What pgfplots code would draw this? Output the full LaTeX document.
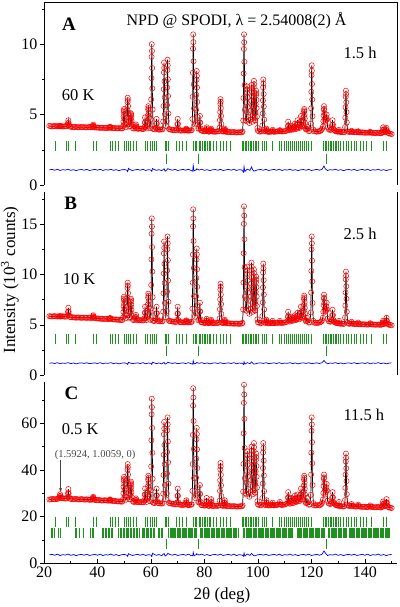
\documentclass[border=0pt]{standalone}
\usepackage{fontspec}
\setmainfont{Liberation Serif}
\usepackage{pgfplots}
\usepackage{pgfplotstable}
\pgfplotsset{compat=1.18}
\usetikzlibrary{arrows.meta}
\definecolor{tickgreen}{RGB}{30,145,30}
\definecolor{annot}{RGB}{70,70,70}

% observed / calculated profile: 2theta, panel A (60 K), B (10 K), C (0.5 K)
\pgfplotstableread{
tt A B C
22 4.20 5.86 27.3
22.5 4.18 5.84 27.4
23 4.16 5.83 27.5
23.5 4.18 5.85 27.5
24 4.19 5.86 27.4
24.5 4.18 5.84 27.5
25 4.17 5.82 27.6
25.4 4.18 5.84 27.8
25.74 4.18 5.84 28.1
25.88 4.17 5.85 28.8
26.00 4.18 5.84 29.6
26.12 4.19 5.84 28.8
26.26 4.18 5.83 28.1
26.6 4.17 5.84 28.0
27 4.15 5.85 27.9
27.5 4.17 5.83 27.8
28 4.18 5.81 27.7
28.4 4.17 5.82 27.8
28.84 4.23 5.95 28.4
28.98 4.40 6.30 30.0
29.10 4.60 6.70 31.8
29.22 4.40 6.30 30.0
29.36 4.23 5.95 28.4
29.7 4.15 5.78 27.7
30 4.14 5.76 27.6
30.5 4.12 5.75 27.5
31 4.11 5.74 27.4
31.5 4.12 5.72 27.5
32 4.13 5.71 27.6
32.5 4.11 5.72 27.4
33 4.10 5.73 27.3
33.5 4.11 5.71 27.4
34 4.12 5.70 27.5
34.5 4.11 5.71 27.4
35 4.11 5.72 27.3
35.5 4.10 5.70 27.3
36 4.09 5.69 27.4
36.5 4.10 5.70 27.3
37 4.12 5.71 27.2
37.5 4.11 5.69 27.2
38 4.10 5.68 27.3
38.14 4.13 5.74 27.5
38.28 4.20 5.84 28.0
38.40 4.28 5.95 28.5
38.52 4.20 5.84 28.0
38.66 4.13 5.74 27.5
39 4.09 5.66 27.1
39.5 4.08 5.64 27.1
40 4.08 5.63 27.2
40.5 4.07 5.62 27.1
41 4.06 5.61 27.0
41.5 4.06 5.60 26.9
42 4.07 5.59 26.9
42.5 4.06 5.59 27.0
43 4.05 5.60 27.0
43.5 4.05 5.58 26.9
44 4.06 5.57 26.8
44.44 4.07 5.60 26.9
44.58 4.10 5.64 27.1
44.70 4.14 5.68 27.4
44.82 4.10 5.64 27.1
44.96 4.07 5.60 26.9
45.5 4.04 5.56 26.7
46 4.05 5.54 26.8
46.5 4.04 5.53 26.7
47 4.03 5.53 26.6
47.5 4.03 5.51 26.5
48 4.04 5.50 26.5
48.5 4.03 5.49 26.5
49 4.02 5.48 26.4
49.3 4.02 5.48 26.5
49.58 4.17 5.74 27.5
49.69 4.49 6.28 30.0
49.77 4.84 6.86 32.7
49.84 5.19 7.45 35.4
49.90 5.40 7.80 37.0
49.96 5.29 7.61 36.1
50.03 5.01 7.14 34.0
50.11 4.67 6.58 31.4
50.22 4.32 6.00 28.7
50.60 4.10 5.65 27.2
50.98 4.31 5.94 28.3
51.09 4.80 6.80 32.0
51.17 5.34 7.72 36.1
51.24 5.88 8.65 40.1
51.30 6.20 9.20 42.5
51.36 6.03 8.90 41.2
51.43 5.60 8.16 38.0
51.51 5.08 7.28 34.1
51.62 4.54 6.35 30.1
51.90 4.15 5.70 27.4
52.18 4.18 5.75 27.4
52.29 4.42 6.24 29.4
52.37 4.68 6.76 31.6
52.44 4.94 7.29 33.7
52.50 5.10 7.60 35.0
52.56 5.02 7.43 34.3
52.63 4.81 7.01 32.6
52.71 4.55 6.51 30.5
52.82 4.29 5.98 28.4
53.3 4.02 5.48 26.4
53.7 4.01 5.47 26.3
54.14 4.05 5.54 26.4
54.28 4.17 5.76 27.1
54.40 4.30 6.00 27.8
54.52 4.17 5.76 27.1
54.66 4.05 5.54 26.4
55 3.99 5.45 26.2
55.5 4.00 5.46 26.2
56 4.01 5.47 26.3
56.5 3.99 5.45 26.2
57 3.98 5.44 26.1
57.25 3.99 5.45 26.2
57.54 4.12 5.66 27.1
57.68 4.44 6.20 29.4
57.80 4.80 6.80 32.0
57.92 4.44 6.20 29.4
58.06 4.12 5.66 27.1
58.40 4.02 5.48 26.3
58.68 4.19 5.78 27.6
58.79 4.56 6.38 30.2
58.87 4.96 7.04 33.0
58.94 5.36 7.70 35.8
59.00 5.60 8.10 37.5
59.06 5.47 7.89 36.6
59.13 5.15 7.36 34.3
59.21 4.77 6.73 31.6
59.32 4.37 6.07 28.8
59.65 4.05 5.50 26.6
59.98 4.69 6.62 31.3
60.09 6.08 8.97 41.5
60.17 7.59 11.52 52.7
60.24 9.10 14.07 63.8
60.30 10.00 15.60 70.5
60.36 9.52 14.78 66.9
60.43 8.31 12.74 58.0
60.51 6.86 10.30 47.3
60.62 5.36 7.75 36.2
60.8 3.99 5.41 26.0
61 3.98 5.40 25.9
61.4 3.96 5.38 25.8
61.84 4.05 5.58 26.6
61.98 4.36 6.15 29.1
62.10 4.70 6.80 32.0
62.22 4.36 6.15 29.1
62.36 4.05 5.58 26.6
62.7 3.95 5.37 25.8
63 3.93 5.36 25.7
63.5 3.94 5.35 25.7
64 3.95 5.34 25.6
64.3 3.95 5.35 25.7
64.58 4.51 6.31 29.8
64.69 5.61 8.14 37.8
64.77 6.80 10.12 46.5
64.84 7.99 12.11 55.3
64.90 8.70 13.30 60.5
64.96 8.32 12.66 57.7
65.03 7.37 11.08 50.7
65.11 6.22 9.17 42.4
65.22 5.03 7.19 33.6
65.55 4.20 5.75 27.5
65.88 4.54 6.37 30.0
65.99 5.68 8.31 38.5
66.07 6.92 10.42 47.7
66.14 8.16 12.53 57.0
66.20 8.90 13.80 62.5
66.26 8.50 13.12 59.5
66.33 7.51 11.44 52.2
66.41 6.32 9.41 43.3
66.52 5.08 7.30 34.1
66.75 3.98 5.40 25.9
67 3.96 5.38 25.7
67.5 3.93 5.35 25.6
68 3.91 5.33 25.5
68.5 3.90 5.31 25.4
69 3.89 5.29 25.3
69.4 3.89 5.28 25.3
69.74 3.99 5.49 26.1
69.88 4.33 6.11 28.9
70.00 4.70 6.80 32.0
70.12 4.33 6.11 28.9
70.26 3.99 5.49 26.1
70.6 3.88 5.28 25.2
71 3.86 5.27 25.1
71.5 3.87 5.25 25.0
72 3.88 5.24 25.0
72.5 3.87 5.26 25.1
72.94 3.89 5.29 25.3
73.08 3.94 5.36 26.1
73.20 4.00 5.45 27.0
73.32 3.94 5.36 26.1
73.46 3.89 5.29 25.3
73.8 3.87 5.26 25.0
74 3.86 5.25 24.9
74.5 3.87 5.26 25.0
75 3.88 5.27 25.1
75.25 3.90 5.30 25.3
75.48 4.69 6.61 31.0
75.59 6.26 9.19 42.5
75.67 7.97 12.00 55.0
75.74 9.68 14.81 67.5
75.80 10.70 16.50 75.0
75.86 10.15 15.60 71.0
75.93 8.79 13.35 61.0
76.01 7.15 10.66 49.0
76.12 5.44 7.85 36.5
76.45 4.30 5.80 28.0
76.78 4.38 6.14 29.0
76.89 5.35 7.83 36.6
76.97 6.41 9.66 44.8
77.04 7.47 11.50 53.1
77.10 8.10 12.60 58.0
77.16 7.76 12.01 55.4
77.23 6.92 10.54 48.8
77.31 5.90 8.78 40.8
77.42 4.84 6.95 32.6
77.70 4.00 5.45 26.2
78.04 4.02 5.55 26.3
78.18 4.44 6.33 29.7
78.30 4.90 7.20 33.5
78.42 4.44 6.33 29.7
78.56 4.02 5.55 26.3
78.8 3.88 5.26 25.0
79 3.86 5.24 24.9
79.5 3.83 5.21 24.8
80 3.81 5.19 24.7
80.25 3.81 5.19 24.8
80.54 3.85 5.24 25.1
80.68 3.97 5.41 26.5
80.80 4.10 5.60 28.0
80.92 3.97 5.41 26.5
81.06 3.85 5.24 25.1
81.3 3.81 5.19 24.7
81.6 3.79 5.17 24.6
81.9 3.80 5.18 24.6
82.24 3.83 5.23 25.0
82.38 3.91 5.36 26.2
82.50 4.00 5.50 27.5
82.62 3.91 5.36 26.2
82.76 3.83 5.23 25.0
83 3.80 5.18 24.5
83.5 3.79 5.17 24.6
84 3.78 5.16 24.7
84.5 3.80 5.17 24.6
85 3.81 5.19 24.6
85.35 3.82 5.21 24.8
85.68 4.08 5.65 26.8
85.79 4.61 6.55 31.0
85.87 5.18 7.53 35.6
85.94 5.76 8.51 40.2
86.00 6.10 9.10 43.0
86.06 5.92 8.79 41.5
86.13 5.46 8.00 37.9
86.21 4.90 7.06 33.4
86.32 4.33 6.08 28.8
86.55 3.83 5.22 24.9
86.8 3.80 5.18 24.6
87.1 3.80 5.19 24.7
87.34 3.83 5.23 25.0
87.48 3.91 5.36 25.9
87.60 4.00 5.50 27.0
87.72 3.91 5.36 25.9
87.86 3.83 5.23 25.0
88 3.78 5.17 24.5
88.5 3.77 5.16 24.5
89 3.77 5.15 24.6
89.5 3.76 5.14 24.5
90 3.75 5.13 24.4
90.5 3.75 5.12 24.4
91 3.76 5.11 24.5
91.5 3.74 5.12 24.4
92 3.73 5.12 24.3
92.5 3.74 5.11 24.3
93 3.75 5.10 24.4
93.5 3.74 5.11 24.4
94 3.74 5.13 24.4
94.25 3.80 5.20 24.8
94.48 4.58 6.52 30.7
94.59 6.18 9.21 42.6
94.67 7.92 12.13 55.7
94.74 9.66 15.05 68.7
94.80 10.70 16.80 76.5
94.86 10.14 15.87 72.3
94.93 8.75 13.53 61.9
95.01 7.09 10.73 49.4
95.12 5.35 7.81 36.4
95.40 4.60 6.50 30.0
95.68 4.54 6.40 29.5
95.79 5.18 7.55 34.4
95.87 5.88 8.80 39.6
95.94 6.58 10.05 44.9
96.00 7.00 10.80 48.0
96.06 6.78 10.40 46.3
96.13 6.22 9.40 42.1
96.21 5.54 8.20 37.1
96.32 4.84 6.95 31.8
96.80 4.40 6.10 28.5
97.28 4.64 6.62 30.6
97.39 5.28 7.82 35.7
97.47 5.98 9.12 41.2
97.54 6.68 10.42 46.7
97.60 7.10 11.20 50.0
97.66 6.88 10.78 48.2
97.73 6.32 9.74 43.8
97.81 5.64 8.50 38.6
97.92 4.94 7.20 33.1
98.05 4.50 6.30 29.5
98.18 4.76 6.63 31.3
98.29 5.45 7.64 36.6
98.37 6.20 8.74 42.3
98.44 6.95 9.84 48.1
98.50 7.40 10.50 51.5
98.56 7.16 10.15 49.7
98.63 6.56 9.27 45.1
98.71 5.84 8.21 39.5
98.82 5.09 7.11 33.8
98.90 4.60 6.40 30.2
98.98 4.59 6.46 30.3
99.09 5.14 7.33 34.7
99.17 5.74 8.28 39.4
99.24 6.34 9.23 44.2
99.30 6.70 9.80 47.0
99.36 6.51 9.50 45.5
99.43 6.03 8.74 41.7
99.51 5.45 7.82 37.1
99.62 4.85 6.87 32.4
99.8 4.05 5.55 26.6
100 3.85 5.25 25.2
100.5 3.80 5.20 25.0
101 3.79 5.16 24.8
101.35 3.82 5.20 25.1
101.68 4.23 5.87 28.0
101.79 5.08 7.24 34.1
101.87 6.01 8.72 40.8
101.94 6.94 10.21 47.5
102.00 7.50 11.10 51.5
102.06 7.20 10.62 49.4
102.13 6.46 9.44 44.0
102.21 5.57 8.01 37.6
102.32 4.64 6.53 30.9
102.60 3.82 5.20 25.0
102.94 3.81 5.21 25.1
103.08 3.90 5.35 26.0
103.20 4.00 5.50 27.0
103.32 3.90 5.35 26.0
103.46 3.81 5.21 25.1
103.7 3.79 5.18 24.9
104 3.77 5.15 24.8
104.5 3.78 5.16 24.8
105 3.79 5.17 24.9
105.36 3.82 5.20 25.1
105.50 3.92 5.40 26.0
105.64 3.82 5.20 25.1
105.8 3.80 5.18 24.9
106 3.78 5.16 24.8
106.5 3.79 5.17 24.9
107 3.80 5.18 25.0
107.5 3.81 5.20 25.1
108.06 3.83 5.22 25.3
108.20 3.90 5.40 26.3
108.34 3.83 5.22 25.3
108.6 3.81 5.20 25.1
109 3.80 5.19 25.0
109.5 3.81 5.21 25.1
110 3.82 5.23 25.2
110.5 3.84 5.26 25.4
111.04 3.92 5.40 25.9
111.18 4.19 5.82 28.1
111.30 4.50 6.30 30.5
111.42 4.19 5.82 28.1
111.56 3.92 5.40 25.9
111.90 3.88 5.32 25.5
112.24 3.95 5.42 25.9
112.38 4.07 5.60 26.9
112.50 4.20 5.80 28.0
112.62 4.07 5.60 26.9
112.76 3.95 5.42 25.9
113.15 3.93 5.40 25.8
113.54 4.01 5.53 26.5
113.68 4.17 5.73 27.7
113.80 4.35 5.95 29.0
113.92 4.17 5.73 27.7
114.06 4.01 5.53 26.5
114.30 3.98 5.48 26.2
114.54 4.09 5.60 26.8
114.68 4.33 5.89 28.1
114.80 4.60 6.20 29.5
114.92 4.33 5.89 28.1
115.06 4.09 5.60 26.8
115.45 4.05 5.55 26.6
115.84 4.18 5.74 27.4
115.98 4.52 6.24 29.6
116.10 4.90 6.80 32.0
116.22 4.52 6.24 29.6
116.36 4.18 5.74 27.4
116.70 4.15 5.70 27.3
116.98 4.26 5.88 28.3
117.09 4.56 6.41 30.7
117.17 4.88 6.98 33.3
117.24 5.21 7.56 35.9
117.30 5.40 7.90 37.5
117.36 5.30 7.72 36.7
117.43 5.04 7.26 34.6
117.51 4.72 6.70 32.0
117.62 4.40 6.13 29.4
117.90 3.95 5.35 25.8
118.14 3.98 5.40 26.0
118.30 4.15 5.70 28.0
118.46 3.98 5.40 26.0
119 3.83 5.23 25.1
119.4 3.84 5.24 25.2
119.78 4.36 6.23 29.3
119.89 5.45 8.21 38.0
119.97 6.62 10.36 47.4
120.04 7.80 12.51 56.8
120.10 8.50 13.80 62.5
120.16 8.12 13.11 59.5
120.23 7.18 11.39 51.9
120.31 6.06 9.33 42.9
120.42 4.88 7.18 33.5
120.7 3.95 5.40 25.8
121 3.81 5.21 24.8
121.5 3.80 5.20 24.8
122 3.79 5.19 24.9
122.5 3.80 5.20 24.9
123 3.82 5.22 24.8
123.35 3.85 5.27 25.1
123.70 3.90 5.32 25.4
124.0 4.00 5.45 26.0
124.30 4.15 5.71 27.3
124.45 4.53 6.31 30.1
124.55 4.94 6.96 33.1
124.63 5.35 7.61 36.2
124.70 5.60 8.00 38.0
124.78 5.40 7.70 36.8
124.88 5.10 7.20 34.4
125.00 4.70 6.60 31.6
125.20 4.50 6.30 29.5
125.45 4.60 6.40 30.5
125.58 4.80 6.80 32.3
125.70 5.00 7.20 34.0
125.85 4.65 6.50 31.2
126.05 4.10 5.60 26.8
126.50 3.95 5.35 25.6
127 3.90 5.30 25.4
127.3 3.93 5.35 25.6
127.60 4.00 5.48 26.1
127.75 4.29 5.96 28.2
127.90 4.60 6.50 30.5
128.05 4.29 5.96 28.2
128.22 4.00 5.48 26.1
128.45 3.93 5.34 25.8
128.70 3.88 5.28 25.5
129 3.82 5.20 25.0
129.5 3.80 5.17 24.8
129.85 3.79 5.16 24.7
130.15 3.80 5.15 24.7
130.30 3.92 5.40 26.3
130.45 3.80 5.15 24.7
130.7 3.78 5.13 24.6
131 3.77 5.11 24.5
131.5 3.76 5.10 24.4
132 3.75 5.09 24.3
132.3 3.76 5.12 24.5
132.58 4.11 5.72 27.1
132.69 4.79 6.92 32.3
132.77 5.52 8.22 38.0
132.84 6.26 9.52 43.6
132.90 6.70 10.30 47.0
132.96 6.46 9.88 45.2
133.03 5.88 8.84 40.7
133.11 5.17 7.60 35.2
133.22 4.44 6.30 29.6
133.6 3.80 5.20 24.9
134 3.77 5.10 24.5
134.45 3.77 5.11 24.6
134.86 3.79 5.14 24.7
135.00 3.85 5.30 25.4
135.14 3.79 5.14 24.7
135.5 3.77 5.10 24.5
136 3.75 5.08 24.4
136.5 3.75 5.07 24.3
137 3.74 5.07 24.3
137.36 3.76 5.10 24.5
137.50 3.82 5.22 25.1
137.64 3.76 5.10 24.5
138 3.73 5.06 24.3
138.5 3.73 5.05 24.2
139 3.74 5.05 24.2
139.5 3.72 5.05 24.2
140 3.71 5.04 24.2
140.5 3.72 5.03 24.1
141 3.72 5.02 24.1
141.4 3.72 5.03 24.2
141.86 3.73 5.06 24.3
142.00 3.78 5.16 24.8
142.14 3.73 5.06 24.3
142.5 3.71 5.04 24.2
143 3.70 5.03 24.1
143.5 3.70 5.02 24.0
144 3.69 5.01 24.0
144.5 3.70 5.02 24.1
145 3.71 5.02 24.1
145.5 3.69 5.01 24.0
146 3.68 5.00 23.9
146.25 3.70 5.03 24.1
146.54 3.76 5.09 24.4
146.68 3.92 5.23 25.4
146.80 4.10 5.40 26.5
146.92 3.92 5.23 25.4
147.06 3.76 5.09 24.4
147.45 3.75 5.10 24.6
147.84 3.78 5.15 24.7
147.98 3.90 5.41 26.0
148.10 4.05 5.70 27.5
148.22 3.90 5.41 26.0
148.36 3.78 5.15 24.7
148.7 3.70 5.05 24.2
149 3.66 5.00 23.9
149.5 3.64 4.98 23.8
150 3.62 4.95 23.7
}\tblprof

% difference curves (shifted)
\pgfplotstableread{
tt A B C
22 1.07 1.17 3.60
23 1.11 1.21 3.84
24 1.05 1.14 3.44
25 1.12 1.23 3.92
26 1.03 1.12 3.32
27 1.09 1.19 3.72
28 1.06 1.16 3.52
29 1.12 1.23 3.96
30 1.04 1.13 3.40
31 1.09 1.20 3.76
32 1.02 1.11 3.28
33 1.08 1.18 3.68
34 1.10 1.21 3.80
35 1.05 1.15 3.48
36 1.11 1.22 3.88
37 1.03 1.13 3.36
38 1.07 1.17 3.60
39 1.11 1.21 3.84
40 1.05 1.14 3.44
41 1.12 1.23 3.92
42 1.03 1.12 3.32
43 1.09 1.19 3.72
44 1.06 1.16 3.52
45 1.12 1.23 3.96
46 1.04 1.13 3.40
47 1.09 1.20 3.76
48 1.02 1.11 3.28
49 1.08 1.18 3.68
50 1.10 1.21 3.80
51 1.05 1.15 3.48
51.3 0.95 1.05 3.00
51.6 1.18 1.27 4.10
52 1.11 1.22 3.88
53 1.03 1.13 3.36
54 1.07 1.17 3.60
55 1.11 1.21 3.84
56 1.05 1.14 3.44
57 1.12 1.23 3.92
58 1.03 1.12 3.32
59 1.09 1.19 3.72
60 1.06 1.16 3.52
60.3 0.97 1.05 2.90
60.6 1.17 1.28 4.30
61 1.12 1.23 3.96
62 1.04 1.13 3.40
63 1.09 1.20 3.76
64 1.02 1.11 3.28
64.9 1.15 1.25 4.20
65.3 0.98 1.08 3.10
66 1.08 1.18 3.68
66.3 1.16 1.26 4.30
67 1.10 1.21 3.80
68 1.05 1.15 3.48
69 1.11 1.22 3.88
70 1.03 1.13 3.36
71 1.07 1.17 3.60
72 1.11 1.21 3.84
73 1.05 1.14 3.44
74 1.12 1.23 3.92
75 1.03 1.12 3.32
75.6 0.98 1.08 3.20
75.8 1.38 1.42 4.70
76.1 1.00 1.10 3.30
77 1.09 1.19 3.72
77.1 1.15 1.25 4.10
78 1.06 1.16 3.52
79 1.12 1.23 3.96
80 1.04 1.13 3.40
81 1.09 1.20 3.76
82 1.02 1.11 3.28
83 1.08 1.18 3.68
84 1.10 1.21 3.80
85 1.05 1.15 3.48
86 1.11 1.22 3.88
87 1.03 1.13 3.36
88 1.07 1.17 3.60
89 1.11 1.21 3.84
90 1.05 1.14 3.44
91 1.12 1.23 3.92
92 1.03 1.12 3.32
93 1.09 1.19 3.72
94 1.06 1.16 3.52
94.6 0.92 1.06 3.00
94.8 1.30 1.32 4.40
95.1 0.95 1.08 3.10
96 1.12 1.23 3.96
97 1.04 1.13 3.40
97.6 1.28 1.30 4.20
98 1.09 1.20 3.76
98.5 0.98 1.08 3.20
99 1.02 1.11 3.28
100 1.08 1.18 3.68
101 1.10 1.21 3.80
102 1.05 1.15 3.48
103 1.11 1.22 3.88
104 1.03 1.13 3.36
105 1.07 1.17 3.60
106 1.11 1.21 3.84
107 1.05 1.14 3.44
108 1.12 1.23 3.92
109 1.03 1.12 3.32
110 1.09 1.19 3.72
111 1.06 1.16 3.52
112 1.12 1.23 3.96
113 1.04 1.13 3.40
114 1.09 1.20 3.76
115 1.02 1.11 3.28
116 1.08 1.18 3.68
117 1.10 1.21 3.80
118 1.05 1.15 3.48
119 1.11 1.22 3.88
120 1.03 1.13 3.36
121 1.07 1.17 3.60
122 1.11 1.21 3.84
123 1.05 1.14 3.44
124 1.12 1.23 3.92
124.7 1.35 1.45 5.30
125.2 1.15 1.28 4.40
126 1.03 1.12 3.32
127 1.09 1.19 3.72
128 1.06 1.16 3.52
129 1.12 1.23 3.96
130 1.04 1.13 3.40
131 1.09 1.20 3.76
132 1.02 1.11 3.28
133 1.08 1.18 3.68
134 1.10 1.21 3.80
135 1.05 1.15 3.48
136 1.11 1.22 3.88
137 1.03 1.13 3.36
138 1.07 1.17 3.60
139 1.11 1.21 3.84
140 1.05 1.14 3.44
141 1.12 1.23 3.92
142 1.03 1.12 3.32
143 1.09 1.19 3.72
144 1.06 1.16 3.52
145 1.12 1.23 3.96
146 1.04 1.13 3.40
147 1.09 1.20 3.76
148 1.02 1.11 3.28
149 1.08 1.18 3.68
150 1.10 1.21 3.80
}\tbldiff

% Bragg positions, main phase (row heights for panels A, B, C)
\pgfplotstableread[row sep=\\]{
tt yA yB yC\\
24.36 2.75 3.62 17.85\\ 28.22 2.75 3.62 17.85\\ 28.97 2.75 3.62 17.85\\ 31.59 2.75 3.62 17.85\\
38.44 2.75 3.62 17.85\\ 39.69 2.75 3.62 17.85\\ 44.67 2.75 3.62 17.85\\ 45.67 2.75 3.62 17.85\\
46.54 2.75 3.62 17.85\\ 47.79 2.75 3.62 17.85\\ 49.91 2.75 3.62 17.85\\ 50.65 2.75 3.62 17.85\\
51.40 2.75 3.62 17.85\\ 52.40 2.75 3.62 17.85\\ 53.40 2.75 3.62 17.85\\ 54.39 2.75 3.62 17.85\\
58.01 2.75 3.62 17.85\\ 58.75 2.75 3.62 17.85\\ 59.63 2.75 3.62 17.85\\ 60.50 2.75 3.62 17.85\\
61.25 2.75 3.62 17.85\\ 62.12 2.75 3.62 17.85\\ 65.23 2.75 3.62 17.85\\ 65.86 2.75 3.62 17.85\\
66.36 2.75 3.62 17.85\\ 69.60 2.75 3.62 17.85\\ 70.59 2.75 3.62 17.85\\ 71.84 2.75 3.62 17.85\\
73.33 2.75 3.62 17.85\\ 75.83 2.75 3.62 17.85\\ 76.45 2.75 3.62 17.85\\ 77.07 2.75 3.62 17.85\\
77.94 2.75 3.62 17.85\\ 78.57 2.75 3.62 17.85\\ 79.19 2.75 3.62 17.85\\ 79.81 2.75 3.62 17.85\\
80.44 2.75 3.62 17.85\\ 81.06 2.75 3.62 17.85\\ 81.68 2.75 3.62 17.85\\ 82.31 2.75 3.62 17.85\\
83.30 2.75 3.62 17.85\\ 84.55 2.75 3.62 17.85\\ 85.79 2.75 3.62 17.85\\ 87.04 2.75 3.62 17.85\\
88.29 2.75 3.62 17.85\\ 89.53 2.75 3.62 17.85\\ 94.14 2.75 3.62 17.85\\ 94.52 2.75 3.62 17.85\\
95.14 2.75 3.62 17.85\\ 95.76 2.75 3.62 17.85\\ 96.39 2.75 3.62 17.85\\ 97.01 2.75 3.62 17.85\\
97.63 2.75 3.62 17.85\\ 98.26 2.75 3.62 17.85\\ 98.88 2.75 3.62 17.85\\ 99.50 2.75 3.62 17.85\\
100.12 2.75 3.62 17.85\\ 101.74 2.75 3.62 17.85\\ 102.37 2.75 3.62 17.85\\ 103.24 2.75 3.62 17.85\\
105.48 2.75 3.62 17.85\\ 107.98 2.75 3.62 17.85\\ 108.85 2.75 3.62 17.85\\ 109.72 2.75 3.62 17.85\\
110.47 2.75 3.62 17.85\\ 111.21 2.75 3.62 17.85\\ 111.96 2.75 3.62 17.85\\ 112.71 2.75 3.62 17.85\\
113.46 2.75 3.62 17.85\\ 114.21 2.75 3.62 17.85\\ 114.95 2.75 3.62 17.85\\ 115.70 2.75 3.62 17.85\\
116.45 2.75 3.62 17.85\\ 117.20 2.75 3.62 17.85\\ 117.94 2.75 3.62 17.85\\ 118.69 2.75 3.62 17.85\\
120.06 2.75 3.62 17.85\\ 124.42 2.75 3.62 17.85\\ 125.05 2.75 3.62 17.85\\ 125.67 2.75 3.62 17.85\\
126.29 2.75 3.62 17.85\\ 126.92 2.75 3.62 17.85\\ 127.54 2.75 3.62 17.85\\ 128.16 2.75 3.62 17.85\\
128.79 2.75 3.62 17.85\\ 129.41 2.75 3.62 17.85\\ 130.03 2.75 3.62 17.85\\ 130.90 2.75 3.62 17.85\\
131.90 2.75 3.62 17.85\\ 132.90 2.75 3.62 17.85\\ 133.77 2.75 3.62 17.85\\ 135.02 2.75 3.62 17.85\\
135.89 2.75 3.62 17.85\\ 136.89 2.75 3.62 17.85\\ 138.13 2.75 3.62 17.85\\ 139.38 2.75 3.62 17.85\\
140.62 2.75 3.62 17.85\\ 142.49 2.75 3.62 17.85\\ 146.85 2.75 3.62 17.85\\ 148.10 2.75 3.62 17.85\\
}\tblnuc

% Bragg positions, second phase
\pgfplotstableread[row sep=\\]{
tt yA yB yC\\
65.9 1.87 2.41 8.2\\ 77.7 1.87 2.41 8.2\\ 125.4 1.87 2.41 8.2\\
}\tblsecond

% magnetic reflections (panel C only)
\pgfplotstableread[row sep=\\]{
tt y\\
22.7 12.85\\ 23.3 12.85\\ 24.0 12.85\\ 25.5 12.85\\ 26.0 12.85\\ 31.7 12.85\\ 32.2 12.85\\ 33.2 12.85\\ 34.7 12.85\\
37.3 12.85\\ 37.9 12.85\\ 38.4 12.85\\ 41.7 12.85\\ 42.2 12.85\\ 42.8 12.85\\ 43.3 12.85\\ 43.9 12.85\\ 44.5 12.85\\
45.0 12.85\\ 45.6 12.85\\ 47.9 12.85\\ 48.5 12.85\\ 49.0 12.85\\ 49.7 12.85\\ 50.2 12.85\\ 50.7 12.85\\ 51.2 12.85\\
51.7 12.85\\ 52.3 12.85\\ 52.8 12.85\\ 53.3 12.85\\ 53.9 12.85\\ 54.4 12.85\\ 55.0 12.85\\ 55.5 12.85\\ 56.6 12.85\\
57.1 12.85\\ 57.6 12.85\\ 58.2 12.85\\ 58.7 12.85\\ 59.2 12.85\\ 59.8 12.85\\ 60.3 12.85\\ 60.9 12.85\\ 61.4 12.85\\
62.8 12.85\\ 63.3 12.85\\ 63.8 12.85\\ 64.4 12.85\\ 66.6 12.85\\ 67.1 12.85\\ 67.5 12.85\\ 68.0 12.85\\ 68.4 12.85\\
68.9 12.85\\ 69.3 12.85\\ 69.8 12.85\\ 70.2 12.85\\ 70.7 12.85\\ 71.1 12.85\\ 71.6 12.85\\ 72.0 12.85\\ 72.5 12.85\\
72.9 12.85\\ 73.4 12.85\\ 73.8 12.85\\ 74.3 12.85\\ 74.7 12.85\\ 75.2 12.85\\ 75.6 12.85\\ 76.1 12.85\\ 76.5 12.85\\
77.0 12.85\\ 78.4 12.85\\ 78.9 12.85\\ 79.3 12.85\\ 79.8 12.85\\ 80.2 12.85\\ 80.7 12.85\\ 81.1 12.85\\ 81.6 12.85\\
82.0 12.85\\ 82.5 12.85\\ 82.9 12.85\\ 83.4 12.85\\ 83.8 12.85\\ 84.3 12.85\\ 84.7 12.85\\ 85.2 12.85\\ 85.7 12.85\\
86.2 12.85\\ 86.6 12.85\\ 87.1 12.85\\ 87.5 12.85\\ 88.0 12.85\\ 88.4 12.85\\ 88.9 12.85\\ 89.3 12.85\\ 89.8 12.85\\
90.2 12.85\\ 90.7 12.85\\ 91.1 12.85\\ 91.6 12.85\\ 92.0 12.85\\ 92.5 12.85\\ 94.6 12.85\\ 95.0 12.85\\ 95.5 12.85\\
95.9 12.85\\ 96.4 12.85\\ 96.8 12.85\\ 97.3 12.85\\ 97.7 12.85\\ 98.2 12.85\\ 98.6 12.85\\ 99.1 12.85\\ 99.5 12.85\\
100.0 12.85\\ 100.4 12.85\\ 100.9 12.85\\ 101.3 12.85\\ 101.8 12.85\\ 102.2 12.85\\ 102.7 12.85\\ 103.1 12.85\\
103.6 12.85\\ 104.0 12.85\\ 104.5 12.85\\ 104.9 12.85\\ 105.4 12.85\\ 105.8 12.85\\ 106.3 12.85\\ 106.7 12.85\\
107.2 12.85\\ 107.6 12.85\\ 108.1 12.85\\ 108.5 12.85\\ 109.0 12.85\\ 109.4 12.85\\ 109.9 12.85\\ 110.3 12.85\\
110.8 12.85\\ 111.2 12.85\\ 111.7 12.85\\ 112.1 12.85\\ 112.6 12.85\\ 113.0 12.85\\ 114.6 12.85\\ 115.0 12.85\\
115.5 12.85\\ 115.9 12.85\\ 116.4 12.85\\ 116.8 12.85\\ 117.3 12.85\\ 117.7 12.85\\ 118.2 12.85\\ 118.6 12.85\\
119.1 12.85\\ 119.5 12.85\\ 120.0 12.85\\ 120.4 12.85\\ 120.9 12.85\\ 121.3 12.85\\ 121.8 12.85\\ 122.2 12.85\\
122.7 12.85\\ 123.1 12.85\\ 123.6 12.85\\ 124.0 12.85\\ 124.5 12.85\\ 124.9 12.85\\ 126.4 12.85\\ 126.8 12.85\\
127.3 12.85\\ 127.7 12.85\\ 128.2 12.85\\ 128.6 12.85\\ 129.1 12.85\\ 129.5 12.85\\ 130.0 12.85\\ 130.4 12.85\\
130.9 12.85\\ 131.3 12.85\\ 131.8 12.85\\ 132.2 12.85\\ 132.7 12.85\\ 133.1 12.85\\ 134.0 12.85\\ 134.4 12.85\\
134.9 12.85\\ 135.3 12.85\\ 135.8 12.85\\ 136.2 12.85\\ 136.7 12.85\\ 137.1 12.85\\ 137.6 12.85\\ 138.0 12.85\\
138.5 12.85\\ 138.9 12.85\\ 139.4 12.85\\ 139.8 12.85\\ 140.3 12.85\\ 140.7 12.85\\ 141.2 12.85\\ 141.6 12.85\\
142.1 12.85\\ 142.5 12.85\\ 143.0 12.85\\ 143.4 12.85\\ 143.9 12.85\\ 144.3 12.85\\ 144.8 12.85\\ 145.2 12.85\\
145.7 12.85\\ 146.1 12.85\\ 146.6 12.85\\ 147.0 12.85\\ 147.5 12.85\\ 147.9 12.85\\ 148.4 12.85\\ 148.8 12.85\\
149.2 12.85\\
}\tblmagn

\pgfplotsset{
  panel/.style={
    scale only axis, width=353pt, xmin=20, xmax=152,
    anchor=south west, clip=false,
    axis y line*=left,
    ytick align=outside, xtick align=inside,
    major tick length=4pt, minor tick length=2.5pt,
    every tick/.style={black, line width=0.5pt},
    axis line style={line width=0.6pt},
    ticklabel style={font=\fontsize{16}{18}\selectfont},
    xticklabel={\pgfmathprintnumber[assume math mode=true]{\tick}},
    yticklabel={\pgfmathprintnumber[assume math mode=true]{\tick}},
    yticklabel style={xshift=1pt},
  },
  obs/.style={only marks, mark=o, mark size=2.6pt, mark options={draw=red, line width=0.5pt}},
  calc/.style={black, line width=0.7pt, no marks},
  dif/.style={blue, line width=0.7pt, no marks},
  brg/.style={only marks, mark=|, mark size=5pt, mark options={draw=tickgreen, line width=0.7pt}},
}
\tikzset{lbl/.style={font=\fontsize{16.5}{19}\selectfont, inner sep=0pt}}

\begin{document}
\begin{tikzpicture}
\path[use as bounding box] (0,0) rectangle (399pt,607pt);

% ---------- Panel A ----------
\begin{axis}[panel, at={(44pt,422pt)}, height=183pt, ymin=0, ymax=13,
  axis x line*=top, xtick=\empty,
  ytick={0,5,10}, minor ytick={2.5,7.5,12.5}]
\addplot[brg] table[x=tt, y=yA] {\tblnuc};
\addplot[brg] table[x=tt, y=yA] {\tblsecond};
\addplot[dif] table[x=tt, y=A] {\tbldiff};
\addplot[obs] table[x=tt, y=A] {\tblprof};
\addplot[calc] table[x=tt, y=A] {\tblprof};
\draw[line width=0.6pt] (rel axis cs:1,0) -- (rel axis cs:1,1);
\node[font=\fontsize{19}{22}\selectfont\bfseries, inner sep=0pt] at (axis cs:29.3,11.4) {A};
\node[lbl, font=\fontsize{16}{19}\selectfont] at (axis cs:92,11.7) {NPD @ SPODI, λ = 2.54008(2) Å};
\node[lbl] at (axis cs:138.2,9.4) {1.5 h};
\node[lbl] at (axis cs:32.8,6.4) {60 K};
\end{axis}

% ---------- Panel B ----------
\begin{axis}[panel, at={(44pt,232pt)}, height=183.3pt, ymin=0, ymax=18.26,
  axis x line=none,
  ytick={0,5,10,15}, minor ytick={2.5,7.5,12.5,17.5}]
\addplot[brg] table[x=tt, y=yB] {\tblnuc};
\addplot[brg] table[x=tt, y=yB] {\tblsecond};
\addplot[dif] table[x=tt, y=B] {\tbldiff};
\addplot[obs] table[x=tt, y=B] {\tblprof};
\addplot[calc] table[x=tt, y=B] {\tblprof};
\draw[line width=0.6pt] (rel axis cs:1,0) -- (rel axis cs:1,1);
\node[font=\fontsize{19}{22}\selectfont\bfseries, inner sep=0pt] at (axis cs:30.0,17.1) {B};
\node[lbl] at (axis cs:138.2,14.1) {2.5 h};
\node[lbl] at (axis cs:33.1,9.53) {10 K};
\end{axis}

% ---------- Panel C ----------
\begin{axis}[panel, at={(44pt,43.7pt)}, height=181.6pt, ymin=0, ymax=77.8,
  axis x line*=bottom,
  xtick={20,40,...,140}, minor xtick={30,50,...,150},
  ytick={0,20,40,60}, minor ytick={10,30,50,70}]
\addplot[brg] table[x=tt, y=yC] {\tblnuc};
\addplot[brg] table[x=tt, y=y] {\tblmagn};
\addplot[brg] table[x=tt, y=yC] {\tblsecond};
\addplot[dif] table[x=tt, y=C] {\tbldiff};
\addplot[obs] table[x=tt, y=C] {\tblprof};
\addplot[calc] table[x=tt, y=C] {\tblprof};
\node[font=\fontsize{19}{22}\selectfont\bfseries, inner sep=0pt] at (axis cs:30.3,72.9) {C};
\node[lbl] at (axis cs:139.6,63.6) {11.5 h};
\node[lbl] at (axis cs:33.5,57.4) {0.5 K};
\node[font=\fontsize{10.5}{12}\selectfont, text=annot, inner sep=0pt] at (axis cs:39.1,46.4) {(1.5924, 1.0059, 0)};
\draw[annot, line width=0.5pt, -{Stealth[length=4pt,width=3pt]}] (axis cs:26.2,44.2) -- (axis cs:26.2,30.6);
\end{axis}

% shared axis labels
\node[rotate=90, font=\fontsize{17}{20}\selectfont, inner sep=0pt] at (10pt,327pt) {Intensity (10\textsuperscript{3} counts)};
\node[font=\fontsize{17}{20}\selectfont, inner sep=0pt] at (222pt,12pt) {2θ (deg)};
\end{tikzpicture}
\end{document}
